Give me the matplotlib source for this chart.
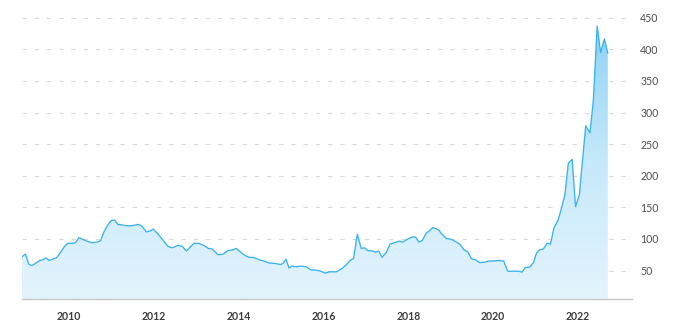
import numpy as np
import matplotlib
matplotlib.use("Agg")
import matplotlib.pyplot as plt
from matplotlib.colors import LinearSegmentedColormap

# Decimal-year dates and prices
dates = [
    2008.90, 2008.98, 2009.06, 2009.13, 2009.21, 2009.32, 2009.39, 2009.46, 2009.54, 2009.63,
    2009.71, 2009.80, 2009.90, 2009.98, 2010.08, 2010.16, 2010.24, 2010.31, 2010.43, 2010.55,
    2010.67, 2010.75, 2010.83, 2010.92, 2011.00, 2011.08, 2011.16, 2011.28, 2011.34, 2011.49,
    2011.65, 2011.73, 2011.83, 2011.93, 2011.99, 2012.09, 2012.20, 2012.34, 2012.44, 2012.58,
    2012.68, 2012.77, 2012.86, 2012.95, 2013.07, 2013.19, 2013.29, 2013.38, 2013.52, 2013.64,
    2013.75, 2013.86, 2013.95, 2014.05, 2014.15, 2014.25, 2014.37, 2014.49, 2014.60, 2014.72,
    2014.88, 2015.00, 2015.06, 2015.12, 2015.19, 2015.26, 2015.35, 2015.47, 2015.59, 2015.71,
    2015.83, 2015.94, 2016.04, 2016.14, 2016.30, 2016.42, 2016.53, 2016.63, 2016.71, 2016.80,
    2016.89, 2016.97, 2017.04, 2017.15, 2017.23, 2017.30, 2017.38, 2017.48, 2017.57, 2017.67,
    2017.79, 2017.87, 2017.99, 2018.09, 2018.17, 2018.25, 2018.33, 2018.42, 2018.50, 2018.58,
    2018.66, 2018.72, 2018.79, 2018.90, 2019.00, 2019.11, 2019.21, 2019.31, 2019.40, 2019.49,
    2019.58, 2019.68, 2019.78, 2019.89, 2020.04, 2020.13, 2020.25, 2020.34, 2020.47, 2020.59,
    2020.68, 2020.76, 2020.86, 2020.95, 2021.02, 2021.10, 2021.18, 2021.27, 2021.35, 2021.43,
    2021.53, 2021.61, 2021.69, 2021.77, 2021.86, 2021.94, 2022.03, 2022.10, 2022.18, 2022.28,
    2022.36, 2022.45, 2022.53, 2022.62, 2022.70,
]
prices = [
    72, 76, 60, 58, 61, 66, 67, 70, 66, 68.5,
    70, 78, 88, 93, 93, 94, 102, 100, 96.5, 94,
    95, 97, 111, 122, 129, 130, 123, 122, 121, 121,
    123, 120, 111, 113, 115.5, 109, 100, 88, 86, 90,
    88, 81, 87, 93, 93, 89.5, 85, 84, 75, 76,
    81.6, 82.7, 85, 79, 74, 71, 70.5, 67, 65, 62,
    61, 59.5, 62, 68, 54, 57, 56, 57, 56, 51,
    50.6, 49, 46, 48, 48, 52, 58.5, 66, 69, 107.6,
    85, 86, 81.6, 81, 79, 81, 71, 78.5, 92, 94,
    96.5, 95, 100, 103, 103, 95, 97.5, 109, 113, 118,
    116, 114, 107.6, 100.6, 99.7, 96, 92, 83, 79.6, 68.5,
    67, 62.6, 63, 65, 65.3, 66, 65, 49, 49, 49,
    47.5, 55, 55.4, 62.6, 77.5, 83, 84, 93, 92, 117,
    130, 149, 170, 220, 226, 151, 170, 220, 279, 268,
    320, 437, 395, 416.5, 394,
]
year_ticks = [2010, 2012, 2014, 2016, 2018, 2020, 2022]
value_ticks = [50, 100, 150, 200, 250, 300, 350, 400, 450]

W, H = 687, 328
fig = plt.figure(figsize=(W / 100, H / 100), dpi=100)
ax = fig.add_axes([22 / W, 1 - 299 / H, (632 - 22) / W, 299 / H])

x = np.array(dates)
y = np.array(prices)
ymin, ymax = 5, 478
xmin, xmax = x[0], 2023.27

line_color = "#38b2f0"
poly = ax.fill_between(x, y, ymin, facecolor="none", edgecolor="none")
cmap = LinearSegmentedColormap.from_list("g", ["#e4f4fd", "#c6e9fb", "#8dd2f6"])
grad = np.linspace(0, 1, 256).reshape(-1, 1)
im = ax.imshow(grad, cmap=cmap, aspect="auto", origin="lower",
               extent=[xmin, x[-1], ymin, 440], zorder=1)
im.set_clip_path(poly.get_paths()[0], transform=ax.transData)
ax.plot(x, y, color=line_color, lw=0.95, zorder=3, solid_joinstyle="round")

ax.set_xlim(xmin, xmax)
ax.set_ylim(ymin, ymax)

for v in value_ticks:
    ax.axhline(v, color="#d9d9d9", lw=0.8, ls=(0, (4, 7)), zorder=0)

ax.set_xticks(year_ticks)
ax.set_xticklabels([str(t) for t in year_ticks])
ax.set_yticks(value_ticks)
ax.yaxis.tick_right()
ax.tick_params(axis="x", length=0, pad=9, labelsize=7.6, labelcolor="#3d3d3d")
ax.tick_params(axis="y", length=0, pad=6, labelsize=7.6, labelcolor="#4d4d4d")
for lab in ax.get_xticklabels():
    lab.set_fontfamily("Lato")
    lab.set_fontweight("bold")
for lab in ax.get_yticklabels():
    lab.set_fontfamily("Lato")
    lab.set_horizontalalignment("left")

for s in ["top", "left", "right"]:
    ax.spines[s].set_visible(False)
ax.spines["bottom"].set_color("#c8c8c8")
ax.spines["bottom"].set_linewidth(1.0)
ax.grid(False)

fig.savefig("out.png", dpi=100)
